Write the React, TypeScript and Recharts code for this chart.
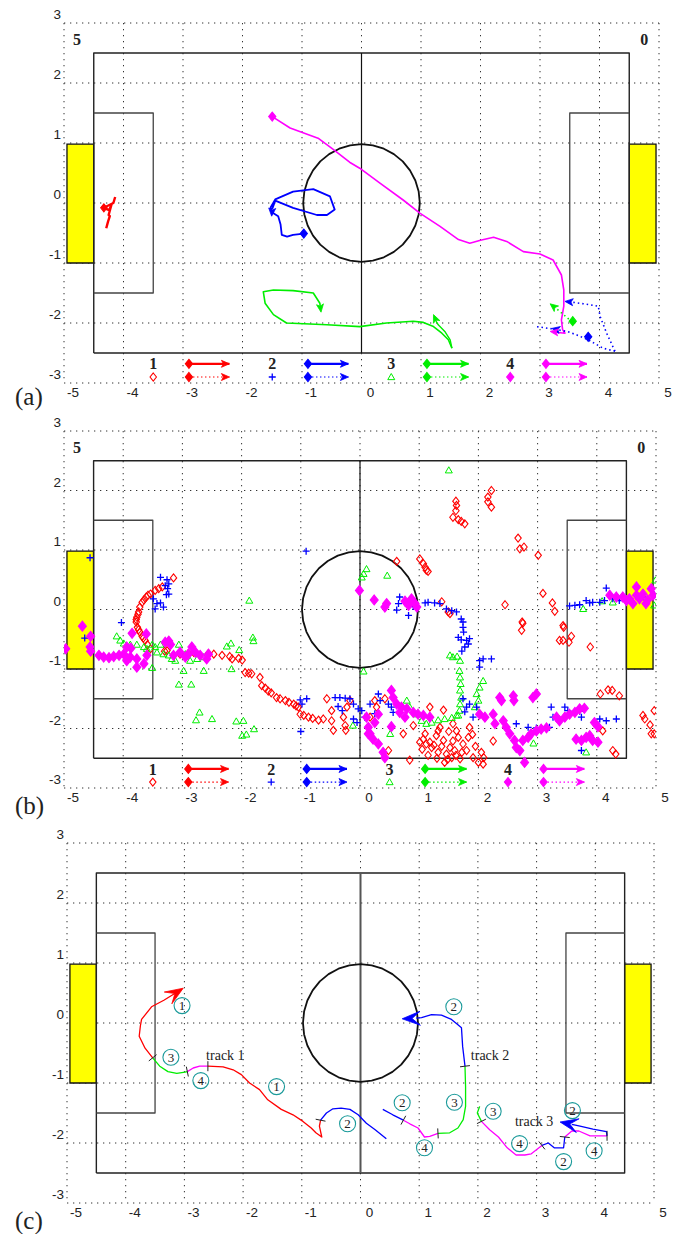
import React from "react";
import { ScatterChart, Scatter, XAxis, YAxis, CartesianGrid, ReferenceArea } from "recharts";

type P = [number, number];
type A = [number, number, number, number]; // tip x, tip y, from x, from y

const RED = "#ff0000";
const BLUE = "#0000ff";
const GREEN = "#00ee00";
const MAGENTA = "#ff00ff";
const TEAL = "#1a9a9a";
const SERIF = '"Liberation Serif", "DejaVu Serif", serif';
const NARROW = '"Liberation Sans Narrow", "Liberation Sans", Arial, sans-serif';

const xTicks = [-5, -4, -3, -2, -1, 0, 1, 2, 3, 4, 5];
const yTicks = [-3, -2, -1, 0, 1, 2, 3];

// field (metres)
const fieldOutline: P[] = [[-4.5, -2.5], [4.5, -2.5], [4.5, 2.5], [-4.5, 2.5], [-4.5, -2.5]];
const centreLine: P[] = [[0, 2.5], [0, -2.5]];
const leftBox: P[] = [[-4.5, 1.5], [-3.5, 1.5], [-3.5, -1.5], [-4.5, -1.5]];
const rightBox: P[] = [[4.5, 1.5], [3.5, 1.5], [3.5, -1.5], [4.5, -1.5]];
const centreCircle: P[] = [
  [0.98, 0], [0.961, 0.191], [0.905, 0.375], [0.815, 0.544], [0.693, 0.693], [0.544, 0.815], [0.375, 0.905], [0.191, 0.961], [0, 0.98],
  [-0.191, 0.961], [-0.375, 0.905], [-0.544, 0.815], [-0.693, 0.693], [-0.815, 0.544], [-0.905, 0.375], [-0.961, 0.191], [-0.98, 0],
  [-0.961, -0.191], [-0.905, -0.375], [-0.815, -0.544], [-0.693, -0.693], [-0.544, -0.815], [-0.375, -0.905], [-0.191, -0.961], [0, -0.98],
  [0.191, -0.961], [0.375, -0.905], [0.544, -0.815], [0.693, -0.693], [0.815, -0.544], [0.905, -0.375], [0.961, -0.191], [0.98, 0],
];
const goalsX: P[] = [[-4.95, -4.5], [4.5, 4.95]];
const goalY: P = [-1, 0.98];
const cornerLabels = [{ x: -4.78, y: 2.72, t: "5" }, { x: 4.75, y: 2.72, t: "0" }];

// legend of (a) and (b)
const legendNums = [{ x: -3.5, y: -2.68, t: "1" }, { x: -1.5, y: -2.68, t: "2" }, { x: 0.5, y: -2.68, t: "3" }, { x: 2.5, y: -2.68, t: "4" }];
const legendMarkRow = -2.9;
const legendArrowX: P[] = [[-2.9, -2.22], [-0.9, -0.22], [1.1, 1.8], [3.1, 3.79]];

// (a) tracked paths
const aRedPath: P[] = [[-4.14, 0.1], [-4.17, 0.0], [-4.23, -0.03], [-4.33, -0.08], [-4.24, -0.12], [-4.2, -0.02], [-4.25, -0.2], [-4.23, -0.22], [-4.26, -0.31], [-4.29, -0.42]];
const aBluePath: P[] = [[-0.97, -0.51], [-1.15, -0.53], [-1.25, -0.56], [-1.34, -0.53], [-1.36, -0.36], [-1.4, -0.22], [-1.48, -0.17], [-1.53, -0.08], [-1.45, 0.06], [-1.15, 0.19], [-0.81, 0.23], [-0.53, 0.11], [-0.45, -0.11], [-0.58, -0.2], [-0.75, -0.2], [-1.15, -0.08], [-1.45, 0.04], [-1.5, -0.1]];
const aGreenPath: P[] = [[1.52, -2.42], [1.46, -2.28], [1.35, -2.17], [1.21, -2.06], [1.04, -1.99], [0.87, -1.97], [0.42, -2.0], [-0.03, -2.06], [-0.58, -2.03], [-1.26, -2.0], [-1.48, -1.86], [-1.62, -1.67], [-1.65, -1.48], [-1.48, -1.45], [-1.15, -1.46], [-0.81, -1.5], [-0.7, -1.67], [-0.69, -1.76]];
const aGreenSpur: P[] = [[1.22, -1.9], [1.26, -1.98], [1.29, -2.03], [1.4, -2.14], [1.49, -2.28], [1.52, -2.42]];
const aMagentaPath: P[] = [[-1.5, 1.44], [-1.2, 1.25], [-0.73, 1.08], [-0.47, 0.89], [-0.2, 0.68], [-0.03, 0.58], [0.31, 0.33], [0.7, 0.05], [0.98, -0.17], [1.32, -0.39], [1.63, -0.61], [1.82, -0.67], [2.0, -0.62], [2.22, -0.57], [2.44, -0.64], [2.72, -0.81], [3.0, -0.85], [3.22, -0.95], [3.36, -1.2], [3.4, -1.45], [3.4, -1.72], [3.36, -1.95], [3.38, -2.11], [3.42, -2.17], [3.22, -2.15]];
const aBlueDotted1: P[] = [[4.26, -2.47], [4.12, -2.17], [4.01, -1.89], [3.98, -1.72], [3.73, -1.68], [3.45, -1.64]];
const aBlueDotted2: P[] = [[4.26, -2.47], [4.06, -2.42], [3.81, -2.28], [3.62, -2.2], [3.45, -2.14], [3.22, -2.1], [2.94, -2.06]];
const aGreenDotted: P[] = [[3.55, -1.97], [3.5, -1.95], [3.36, -1.83], [3.2, -1.7]];
const aRedStart: P[] = [[-4.33, -0.08]];
const aBlueStart: P[] = [[-0.97, -0.51], [3.81, -2.23]];
const aGreenStart: P[] = [[3.55, -1.97]];
const aMagentaStart: P[] = [[-1.5, 1.44]];
const aBlueArrows: A[] = [[-1.51, -0.22, -1.5, -0.08], [3.42, -1.64, 3.62, -1.66], [3.2, -2.09, 3.45, -2.14]];
const aGreenArrows: A[] = [[-0.68, -1.82, -0.7, -1.67], [1.21, -1.86, 1.27, -2.0], [3.17, -1.68, 3.36, -1.83]];
const aMagentaArrows: A[] = [[3.17, -2.14, 3.42, -2.17]];

// (b) raw detections
const bRed: P[] = [
  [-3.15, 0.53], [-3.34, 0.38], [-3.4, 0.35], [-3.46, 0.32], [-3.54, 0.26], [-3.58, 0.24], [-3.61, 0.21], [-3.65, 0.16], [-3.68, 0.12], [-3.72, 0.04], [-3.74, -0.04], [-3.75, -0.08], [-3.77, -0.13], [-3.78, -0.17], [-3.78, -0.21], [-3.76, -0.3], [-3.74, -0.34], [-3.72, -0.38], [-3.68, -0.45], [-3.66, -0.48], [-3.63, -0.52], [-3.59, -0.59], [-3.54, -0.66],
  [-3.3, -0.7], [-3.26, -0.69], [-3.04, -0.75], [-2.9, -0.74], [-2.81, -0.72], [-2.56, -0.74], [-2.47, -0.75], [-2.33, -0.77], [-2.2, -0.79], [-2.16, -0.83], [-2.05, -0.82], [-1.99, -0.85], [-1.94, -1.06], [-1.88, -1.07], [-1.83, -1.08], [-1.69, -1.14], [-1.66, -1.28], [-1.6, -1.32], [-1.55, -1.37], [-1.5, -1.4], [-1.41, -1.48], [-1.35, -1.5], [-1.26, -1.53], [-1.2, -1.56], [-1.12, -1.59], [-1.08, -1.62], [-1.04, -1.64], [-1.01, -1.76], [-0.95, -1.78], [-0.87, -1.81], [-0.8, -1.83], [-0.7, -1.86], [-0.62, -1.84], [-0.56, -1.5], [-0.48, -1.7], [-0.48, -1.87], [-0.45, -2.03], [-0.28, -1.81], [-0.25, -1.95], [-0.24, -2.03], [-0.22, -1.64], [-0.17, -1.53],
  [2.22, 2.0], [2.16, 1.89], [2.16, 1.81], [2.22, 1.72], [1.62, 1.82], [1.63, 1.75], [1.62, 1.66], [1.57, 1.55], [1.66, 1.51], [1.71, 1.48], [1.77, 1.44], [2.67, 1.2], [2.7, 1.02], [2.77, 1.05], [3.01, 0.91], [0.62, 0.81], [1.01, 0.85], [1.07, 0.77], [1.1, 0.71], [1.12, 0.66], [1.15, 0.64], [3.09, 0.27], [2.45, 0.08], [3.25, 0.11], [3.29, -0.03], [2.74, -0.21], [2.75, -0.23], [2.73, -0.35], [3.43, -0.27], [3.44, -0.3], [3.37, -0.52], [3.43, -0.52], [3.53, -0.55], [3.57, -0.45], [3.89, -0.63], [1.38, 0.13], [1.49, -0.04], [1.52, -0.07],
  [4.06, -1.42], [4.19, -1.35], [4.26, -1.36], [4.38, -1.45], [4.97, -1.7], [4.78, -1.78], [4.81, -1.84], [4.9, -1.94], [4.92, -2.09], [4.97, -2.09], [4.1, -2.04], [4.27, -2.37], [4.32, -2.43], [2.25, -2.21],
  [0.73, -2.09], [0.84, -2.53], [1.01, -2.23], [1.07, -2.18], [1.12, -2.26], [1.18, -2.23], [1.21, -2.32], [1.29, -2.12], [1.32, -2.4], [1.35, -1.98], [1.41, -2.2], [1.43, -2.57], [1.46, -2.43], [1.52, -2.32], [1.55, -2.49], [1.6, -2.37], [1.63, -2.04], [1.66, -2.15], [1.69, -2.51], [1.74, -2.26], [1.8, -2.37], [1.83, -2.15], [1.85, -1.98], [1.91, -2.49], [2.0, -2.57], [2.08, -2.6], [2.09, -2.49], [1.18, -1.64], [1.41, -1.69], [1.57, -1.92], [1.57, -2.21], [1.1, -2.09], [1.32, -2.04], [0.25, -1.53], [0.42, -1.5], [0.28, -1.64], [0.48, -2.37], [0.17, -1.81],
  [1.25, -2.28], [1.38, -2.3], [1.48, -2.52], [1.62, -2.45], [1.72, -2.4], [1.95, -2.3], [1.15, -2.45], [1.05, -2.35], [1.5, -2.05], [1.3, -2.5], [1.9, -2.1], [0.9, -1.95], [2.05, -2.4],
];
const bBlue: P[] = [
  [-4.56, 0.87], [-3.37, 0.54], [-3.26, 0.5], [-3.23, 0.43], [-3.29, 0.4], [-3.25, 0.35], [-3.23, 0.26], [-3.27, 0.25], [-3.49, 0.18], [-3.43, 0.1], [-3.37, 0.11], [-3.32, 0.04], [-3.46, 0.01], [-4.03, -0.22], [-4.65, -0.48], [-0.91, 0.98],
  [-1.01, -1.52], [-0.9, -1.5], [-0.98, -1.59], [-1.0, -2.05], [-0.42, -1.48], [-0.34, -1.48], [-0.25, -1.49], [-0.17, -1.5], [-0.11, -1.59], [-0.03, -1.67], [-0.37, -1.63], [-0.11, -1.84], [-0.3, -1.7], [-0.05, -1.9],
  [0.03, -1.7], [0.08, -1.81], [0.17, -1.59], [0.31, -1.42], [0.34, -1.53], [0.48, -1.59], [0.53, -1.64], [0.56, -1.73], [0.25, -1.75],
  [0.67, 0.21], [0.65, 0.1], [0.62, -0.01], [0.82, -0.1], [0.9, 0.05], [1.1, 0.11], [1.15, 0.12], [1.26, 0.11], [1.35, 0.1], [1.46, 0.01], [1.55, -0.02], [1.63, -0.04], [1.71, -0.16], [1.74, -0.21], [1.74, -0.3], [1.75, -0.38], [1.66, -0.47], [1.71, -0.51], [1.8, -0.52], [1.85, -0.49], [1.83, -0.58], [1.77, -0.63], [1.72, -0.7], [2.02, -0.86], [2.08, -0.83], [2.22, -0.83], [2.02, -0.97],
  [1.74, -1.5], [1.8, -1.64], [1.85, -1.59], [1.91, -1.81], [1.97, -1.64], [1.77, -1.72], [2.64, -1.92], [2.84, -1.98], [2.98, -1.99], [3.2, -1.98], [3.23, -1.64], [3.26, -1.81], [3.46, -1.64], [3.51, -1.7], [3.74, -1.81], [3.71, -1.71], [4.05, -1.84], [4.16, -1.87], [4.33, -1.84], [3.74, -2.37],
  [3.54, 0.06], [3.63, 0.07], [3.71, 0.08], [3.82, 0.15], [3.88, 0.11], [3.93, 0.12], [4.05, 0.12], [4.16, 0.36], [4.13, 0.15], [4.27, 0.18], [4.38, 0.15], [4.78, 0.21], [4.97, 0.25],
];
const bGreen: P[] = [
  [-4.11, -0.45], [-4.05, -0.52], [-3.99, -0.57], [-3.88, -0.59], [-3.77, -0.59], [-3.65, -0.63], [-3.6, -0.66], [-3.51, -0.59], [-3.46, -0.63], [-3.37, -0.59], [-3.43, -0.72], [-3.32, -0.75], [-3.23, -0.77], [-3.18, -0.83], [-3.12, -0.86], [-3.06, -0.59], [-2.95, -0.75], [-2.87, -0.86], [-2.75, -0.83], [-2.64, -0.8], [-3.51, -0.98], [-2.98, -1.03], [-2.64, -1.03], [-3.06, -1.26], [-2.85, -1.26],
  [-2.25, -0.62], [-2.18, -0.57], [-2.04, -0.68], [-2.17, -1.0], [-1.87, 0.15], [-1.81, -0.47], [-1.8, -0.53], [-2.71, -1.73], [-2.77, -1.86], [-2.5, -1.84], [-2.09, -1.88], [-1.97, -1.87], [-1.79, -2.01], [-1.99, -2.12], [-1.92, -2.1], [-0.12, -1.95], [0.06, -1.04],
  [0.11, 0.68], [0.06, 0.6], [0.03, 0.54], [0.46, 0.57], [1.5, 2.34],
  [1.52, -0.77], [1.57, -0.8], [1.64, -0.79], [1.69, -0.86], [1.68, -1.03], [1.69, -1.14], [1.7, -1.25], [1.69, -1.36], [1.71, -1.48], [1.69, -1.59], [1.68, -1.7], [1.66, -1.78],
  [2.08, -1.2], [2.02, -1.31], [1.97, -1.42], [2.0, -1.53], [1.94, -1.64],
  [0.79, -1.53], [0.84, -1.64], [0.96, -1.76], [1.04, -1.87], [1.12, -1.92], [1.21, -1.9], [1.32, -1.86], [1.43, -1.84], [1.55, -1.82], [1.63, -1.78],
  [0.51, -2.09], [2.93, -2.25], [3.82, -2.4], [3.77, 0.01], [4.09, 0.14], [4.27, 0.12], [4.99, 0.49], [4.97, 0.07],
];
const bMagenta: P[] = [
  [-4.97, -0.66], [-4.69, -0.28], [-4.55, -0.45], [-4.56, -0.63], [-4.55, -0.7],
  [-4.41, -0.77], [-4.33, -0.8], [-4.24, -0.81], [-4.16, -0.79], [-4.07, -0.77], [-3.99, -0.75], [-3.94, -0.86], [-3.88, -0.8], [-3.77, -0.83], [-3.77, -0.97], [-3.65, -0.91], [-3.6, -0.77], [-3.61, -0.41], [-3.85, -0.4], [-3.94, -0.63], [-3.87, -0.65],
  [-3.29, -0.55], [-3.23, -0.53], [-3.2, -0.59], [-3.15, -0.77], [-3.04, -0.72], [-2.95, -0.8], [-2.9, -0.75], [-2.84, -0.63], [-2.78, -0.72], [-2.7, -0.77], [-2.59, -0.83], [-2.56, -0.75],
  [-0.01, 0.32], [0.14, -2.09],
  [0.24, 0.16], [0.42, 0.04], [0.45, 0.1], [0.76, 0.14], [0.84, 0.12], [0.87, 0.18], [0.93, 0.1], [0.96, 0.04], [0.82, 0.07],
  [4.22, 0.24], [4.33, 0.21], [4.44, 0.21], [4.5, 0.15], [4.55, 0.18], [4.61, 0.1], [4.67, 0.38], [4.67, 0.24], [4.72, 0.18], [4.78, 0.26], [4.86, 0.16], [4.92, 0.35], [4.83, 0.1], [4.95, 0.24],
  [0.11, -1.81], [0.14, -1.98], [0.17, -2.09], [0.22, -2.18], [0.31, -2.26], [0.39, -2.4], [0.42, -2.49], [0.25, -1.9], [0.31, -1.76], [0.53, -1.36], [0.56, -1.48], [0.62, -1.59], [0.7, -1.64], [0.79, -1.67], [0.9, -1.73], [0.98, -1.76], [1.07, -1.78], [1.18, -1.81], [0.67, -1.73], [0.76, -1.81], [0.53, -1.97],
  [2.02, -1.76], [2.11, -1.81], [2.25, -1.76], [2.28, -1.92], [2.36, -1.48], [2.39, -1.53], [2.42, -1.87], [2.47, -1.98], [2.53, -2.09], [2.59, -1.45], [2.6, -1.53], [2.61, -2.2], [2.64, -2.32], [2.7, -2.37], [2.78, -2.57], [2.75, -2.2], [2.84, -2.15], [2.92, -1.48], [2.98, -1.42], [2.89, -2.09], [2.98, -2.04], [3.06, -2.01], [3.15, -1.99],
  [3.32, -1.81], [3.37, -1.87], [3.46, -1.81], [3.54, -1.76], [3.63, -1.73], [3.71, -1.67], [3.79, -1.66], [3.65, -2.18], [3.74, -2.2], [3.82, -2.15], [3.88, -2.12], [3.93, -2.2], [4.02, -2.23], [3.96, -1.9], [4.02, -1.97],
];

// (c) fused tracks, cut into player segments
const cRed: P[][] = [
  [[-3.54, -0.58], [-3.67, -0.42], [-3.77, -0.22], [-3.75, -0.05], [-3.73, 0.06], [-3.56, 0.27], [-3.35, 0.38], [-3.15, 0.5]],
  [[-2.6, -0.72], [-2.34, -0.73], [-2.17, -0.78], [-2.03, -0.86], [-1.89, -1.0], [-1.72, -1.11], [-1.58, -1.28], [-1.35, -1.44], [-1.15, -1.53], [-0.98, -1.64], [-0.84, -1.75], [-0.76, -1.83], [-0.66, -1.9], [-0.7, -1.72], [-0.68, -1.62]],
];
const cGreen: P[][] = [
  [[-3.54, -0.58], [-3.42, -0.72], [-3.28, -0.81], [-3.13, -0.84], [-2.99, -0.82], [-2.95, -0.81]],
  [[1.78, -0.72], [1.79, -1.06], [1.79, -1.39], [1.75, -1.61], [1.66, -1.75], [1.52, -1.83], [1.32, -1.84]],
  [[2.03, -1.39], [1.99, -1.5], [2.06, -1.64]],
];
const cMagenta: P[][] = [
  [[-2.95, -0.81], [-2.85, -0.75], [-2.74, -0.72], [-2.6, -0.72]],
  [[1.32, -1.84], [1.18, -1.89], [1.09, -1.9], [0.98, -1.75], [0.84, -1.68], [0.73, -1.62]],
  [[2.06, -1.64], [2.2, -1.78], [2.35, -1.9], [2.5, -2.08], [2.65, -2.2], [2.8, -2.2], [2.91, -2.18], [3.09, -2.04]],
  [[3.48, -1.9], [3.6, -1.8], [3.72, -1.8], [3.91, -1.88], [4.2, -1.88]],
];
const cBlue: P[][] = [
  [[-0.68, -1.62], [-0.58, -1.5], [-0.47, -1.43], [-0.33, -1.42], [-0.18, -1.44], [-0.04, -1.53], [0.1, -1.67], [0.25, -1.78], [0.44, -1.93]],
  [[0.95, 0.08], [1.04, 0.09], [1.21, 0.14], [1.38, 0.13], [1.55, 0.06], [1.66, -0.03], [1.72, -0.08], [1.74, -0.39], [1.78, -0.72]],
  [[0.73, -1.62], [0.55, -1.53], [0.38, -1.44]],
  [[3.09, -2.04], [3.2, -2.0], [3.3, -2.08], [3.46, -2.08], [3.48, -1.9]],
  [[4.2, -1.88], [4.19, -1.81], [3.96, -1.77], [3.74, -1.72], [3.6, -1.69]],
];
const cRedArrows: A[] = [[-3.02, 0.58, -3.3, 0.4]];
const cBlueArrows: A[] = [[0.71, 0.07, 1.04, 0.08], [3.4, -1.65, 3.74, -1.72]];
const cCuts: A[] = [
  [-3.54, -0.58, -3.67, -0.42], [-2.95, -0.81, -3.1, -0.84], [-2.6, -0.72, -2.74, -0.72], [-0.68, -1.62, -0.7, -1.72],
  [1.78, -0.72, 1.74, -0.39], [1.32, -1.84, 1.52, -1.83], [0.73, -1.62, 0.84, -1.68],
  [2.06, -1.64, 1.99, -1.5], [3.09, -2.04, 2.91, -2.18], [3.48, -1.9, 3.46, -2.08], [4.2, -1.88, 3.91, -1.88],
];
const cCircled = [
  { x: -3.04, y: 0.29, t: "1" }, { x: -3.23, y: -0.57, t: "3" }, { x: -2.72, y: -0.96, t: "4" }, { x: -1.43, y: -1.06, t: "1" }, { x: -0.22, y: -1.68, t: "2" },
  { x: 1.59, y: 0.27, t: "2" }, { x: 1.6, y: -1.32, t: "3" }, { x: 0.71, y: -1.33, t: "2" }, { x: 1.09, y: -2.08, t: "4" },
  { x: 2.26, y: -1.47, t: "3" }, { x: 3.61, y: -1.46, t: "2" }, { x: 2.71, y: -2.01, t: "4" }, { x: 3.46, y: -2.31, t: "2" }, { x: 3.98, y: -2.13, t: "4" },
];
const cTrackNames = [{ x: -2.63, y: -0.53, t: "track 1" }, { x: 1.88, y: -0.54, t: "track 2" }, { x: 2.63, y: -1.63, t: "track 3" }];

const pts = (a: P[]) => a.map(([x, y]) => ({ x, y }));
const arr = (a: A[]) => a.map(([x, y, fx, fy]) => ({ x, y, fx, fy }));

// ---------- shapes ----------
const noDot = () => <g />;
const diamond = (color: string, r: number, filled: boolean) => (p: any) => (
  <path
    d={`M${p.cx},${p.cy - r}L${p.cx + r * 0.8},${p.cy}L${p.cx},${p.cy + r}L${p.cx - r * 0.8},${p.cy}Z`}
    fill={filled ? color : "none"}
    stroke={color}
    strokeWidth={1.1}
  />
);
const plus = (color: string, r: number) => (p: any) => (
  <path d={`M${p.cx - r},${p.cy}H${p.cx + r}M${p.cx},${p.cy - r}V${p.cy + r}`} stroke={color} strokeWidth={1.3} fill="none" />
);
const triangle = (color: string, r: number) => (p: any) => (
  <path d={`M${p.cx},${p.cy - r}L${p.cx + r},${p.cy + r * 0.75}L${p.cx - r},${p.cy + r * 0.75}Z`} fill="none" stroke={color} strokeWidth={1} />
);
const arrowHead = (color: string, len: number, half: number, notch: number) => (p: any) => {
  const d = p.payload;
  const a = Math.atan2(-(d.y - d.fy), d.x - d.fx);
  const c = Math.cos(a);
  const s = Math.sin(a);
  const bx = p.cx - len * c;
  const by = p.cy - len * s;
  const nx = p.cx - len * notch * c;
  const ny = p.cy - len * notch * s;
  return (
    <path
      d={`M${p.cx},${p.cy}L${bx - half * s},${by + half * c}L${nx},${ny}L${bx + half * s},${by - half * c}Z`}
      fill={color}
      stroke={color}
      strokeWidth={0.8}
    />
  );
};
const cutMark = (p: any) => {
  const d = p.payload;
  const a = Math.atan2(-(d.y - d.fy), d.x - d.fx);
  const c = Math.cos(a);
  const s = Math.sin(a);
  return <line x1={p.cx + 5 * s} y1={p.cy - 5 * c} x2={p.cx - 5 * s} y2={p.cy + 5 * c} stroke="#222" strokeWidth={1} />;
};
const circled = (p: any) => (
  <g>
    <circle cx={p.cx} cy={p.cy} r={8} fill="none" stroke={TEAL} strokeWidth={1.1} />
    <text x={p.cx} y={p.cy + 4.5} textAnchor="middle" fontSize={13} fontFamily={SERIF} fill="#222">
      {p.payload.t}
    </text>
  </g>
);
const textShape = (size: number, weight: string, anchor: string) => (p: any) => (
  <text x={p.cx} y={p.cy + size * 0.35} textAnchor={anchor} fontSize={size} fontWeight={weight} fontFamily={SERIF} fill="#222">
    {p.payload.t}
  </text>
);

// ---------- series helpers ----------
const path = (key: string, data: P[], stroke: string, width = 1.5, dash?: string) => (
  <Scatter
    key={key}
    data={pts(data)}
    line={{ stroke, strokeWidth: width, strokeDasharray: dash, strokeLinejoin: "round" }}
    shape={noDot}
    isAnimationActive={false}
  />
);
const marks = (key: string, data: any[], shape: any) => (
  <Scatter key={key} data={data} shape={shape} isAnimationActive={false} />
);

const XTick = (p: any) => (
  <text x={p.x + 9} y={p.y + 14} textAnchor="middle" fontSize={13.5} fontFamily={NARROW} fill="#222">
    {p.payload.value}
  </text>
);
const YTick = (p: any) => (
  <text x={p.x - 3} y={p.y - 4} textAnchor="end" fontSize={13.5} fontFamily={NARROW} fill="#222">
    {p.payload.value}
  </text>
);

function field(k: string, centreColor: string, centreWidth: number) {
  return [
    ...goalsX.map(([x1, x2], i) => (
      <ReferenceArea key={`${k}g${i}`} x1={x1} x2={x2} y1={goalY[0]} y2={goalY[1]} fill="#ffff00" fillOpacity={1} stroke="#111" strokeWidth={1.3} />
    )),
    path(`${k}out`, fieldOutline, "#222", 1.4),
    path(`${k}lb`, leftBox, "#444", 1.3),
    path(`${k}rb`, rightBox, "#444", 1.3),
    path(`${k}cl`, centreLine, centreColor, centreWidth),
    path(`${k}cc`, centreCircle, "#111", 1.8),
  ];
}

function legend(k: string) {
  const colors = [RED, BLUE, GREEN, MAGENTA];
  const markShapes = [diamond(RED, 4, false), plus(BLUE, 3.5), triangle(GREEN, 3.5), diamond(MAGENTA, 4.5, true)];
  const out: any[] = [marks(`${k}num`, legendNums, textShape(16, "bold", "middle"))];
  legendNums.forEach((n, i) => {
    const [x0, x1] = legendArrowX[i];
    const c = colors[i];
    out.push(marks(`${k}m${i}`, [{ x: n.x, y: legendMarkRow }], markShapes[i]));
    out.push(path(`${k}s${i}`, [[x0, n.y], [x1, n.y]], c, 2.2));
    out.push(path(`${k}d${i}`, [[x0, legendMarkRow], [x1, legendMarkRow]], c, 1.2, "1.5 2.5"));
    out.push(marks(`${k}sd${i}`, [{ x: x0, y: n.y }, { x: x0, y: legendMarkRow }], diamond(c, 4.5, true)));
    out.push(
      marks(
        `${k}sa${i}`,
        [{ x: x1, y: n.y, fx: x0, fy: n.y }, { x: x1, y: legendMarkRow, fx: x0, fy: legendMarkRow }],
        arrowHead(c, 8, 3.5, 0.75)
      )
    );
  });
  return out;
}

function Panel({ top, height, margin, children }: any) {
  return (
    <div style={{ position: "absolute", left: 0, top }}>
      <ScatterChart width={685} height={height} margin={margin}>
        <CartesianGrid stroke="#333" strokeWidth={1} strokeDasharray="1.3 4.7" />
        <XAxis
          type="number"
          dataKey="x"
          domain={[-5, 5]}
          ticks={xTicks}
          allowDataOverflow
          axisLine={false}
          tickLine={false}
          tickSize={0}
          tickMargin={0}
          height={20}
          tick={XTick}
          interval={0}
        />
        <YAxis
          type="number"
          dataKey="y"
          domain={[-3, 3]}
          ticks={yTicks}
          allowDataOverflow
          axisLine={false}
          tickLine={false}
          tickSize={0}
          tickMargin={0}
          width={40}
          tick={YTick}
          interval={0}
        />
        {children}
      </ScatterChart>
    </div>
  );
}

const panelLabel = (t: string, top: number) => (
  <div style={{ position: "absolute", left: 15, top, fontFamily: SERIF, fontSize: 25, lineHeight: "26px", color: "#222" }}>{t}</div>
);

export default function App() {
  return (
    <div style={{ position: "absolute", left: 0, top: 0, width: 685, height: 1234, background: "#fff" }}>
      <Panel top={0} height={410} margin={{ top: 23, right: 26, bottom: 7, left: 24 }}>
        {field("a", "#111", 1.2)}
        {marks("acorner", cornerLabels, textShape(16, "bold", "middle"))}
        {path("ared", aRedPath, RED, 2.4)}
        {path("ablue", aBluePath, BLUE, 1.8)}
        {path("agreen", aGreenPath, GREEN, 1.6)}
        {path("agreen2", aGreenSpur, GREEN, 1.4)}
        {path("amag", aMagentaPath, MAGENTA, 1.6)}
        {path("abd1", aBlueDotted1, BLUE, 1.6, "1.5 3")}
        {path("abd2", aBlueDotted2, BLUE, 1.6, "1.5 3")}
        {path("agd", aGreenDotted, GREEN, 1.6, "1.5 3")}
        {marks("ars", pts(aRedStart), diamond(RED, 4, true))}
        {marks("abs", pts(aBlueStart), diamond(BLUE, 4.5, true))}
        {marks("ags", pts(aGreenStart), diamond(GREEN, 4.5, true))}
        {marks("ams", pts(aMagentaStart), diamond(MAGENTA, 4.5, true))}
        {marks("aba", arr(aBlueArrows), arrowHead(BLUE, 8, 3.5, 0.75))}
        {marks("aga", arr(aGreenArrows), arrowHead(GREEN, 8, 3.5, 0.75))}
        {marks("ama", arr(aMagentaArrows), arrowHead(MAGENTA, 8, 3.5, 0.75))}
        {legend("al")}
      </Panel>
      <Panel top={410} height={400} margin={{ top: 21, right: 29, bottom: 2, left: 24 }}>
        {field("b", "#111", 1.2)}
        {marks("bcorner", cornerLabels, textShape(16, "bold", "middle"))}
        {marks("bred", pts(bRed), diamond(RED, 4, false))}
        {marks("bgreen", pts(bGreen), triangle(GREEN, 3.5))}
        {marks("bblue", pts(bBlue), plus(BLUE, 3.5))}
        {marks("bmag", pts(bMagenta), diamond(MAGENTA, 5, true))}
        {legend("bl")}
      </Panel>
      <Panel top={810} height={424} margin={{ top: 33, right: 31, bottom: 11, left: 27 }}>
        {field("c", "#555", 2)}
        {cRed.map((s, i) => path(`cr${i}`, s, RED, 1.3))}
        {cGreen.map((s, i) => path(`cg${i}`, s, GREEN, 1.3))}
        {cMagenta.map((s, i) => path(`cm${i}`, s, MAGENTA, 1.3))}
        {cBlue.map((s, i) => path(`cb${i}`, s, BLUE, 1.3))}
        {marks("cra", arr(cRedArrows), arrowHead(RED, 18, 7, 0.55))}
        {marks("cba", arr(cBlueArrows), arrowHead(BLUE, 18, 7, 0.55))}
        {marks("ccut", arr(cCuts), cutMark)}
        {marks("ccirc", cCircled, circled)}
        {marks("cnames", cTrackNames, textShape(14, "normal", "start"))}
      </Panel>
      {panelLabel("(a)", 384)}
      {panelLabel("(b)", 793)}
      {panelLabel("(c)", 1208)}
    </div>
  );
}
